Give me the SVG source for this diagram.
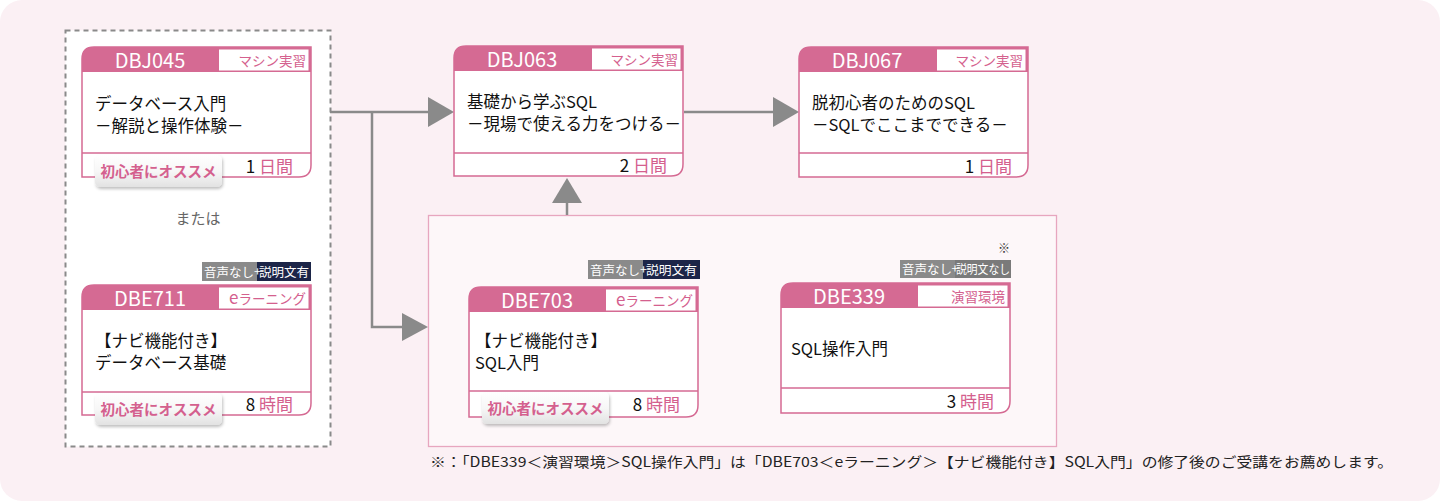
<svg xmlns="http://www.w3.org/2000/svg" width="1440" height="501" viewBox="0 0 1440 501">
<defs>
<style>
text{font-family:"Noto Sans CJK JP","Noto Sans",sans-serif}
.frame{fill:#fff;stroke:#d56a93;stroke-width:1.5}
.head{fill:#d56a93}
.lbl{fill:#fff}
.code{fill:#fff;font-size:20px;text-anchor:middle}
.kind{fill:#d4608e;font-size:13.5px;text-anchor:end}
.body{fill:#111;font-size:16.5px}
.dur{font-size:17px;text-anchor:end;fill:#111}
.pk{fill:#d4608e}
.rule{stroke:#d56a93;stroke-width:1.5}
.badge{fill:url(#bg);filter:url(#sh)}
.btxt{fill:#d4608e;font-size:14.5px;font-weight:bold;text-anchor:middle}
.tag{font-size:12.5px;fill:#fff}
.conn{stroke:#8a8a8a;stroke-width:2.5;fill:none}
.ah{fill:#8a8a8a}
</style>
<linearGradient id="bg" x1="0" y1="0" x2="0" y2="1">
<stop offset="0" stop-color="#ffffff"/>
<stop offset="0.5" stop-color="#f7f7f7"/>
<stop offset="1" stop-color="#e2e2e2"/>
</linearGradient>
<filter id="sh" x="-10%" y="-20%" width="125%" height="160%">
<feDropShadow dx="1" dy="2" stdDeviation="1.5" flood-color="#000" flood-opacity="0.25"/>
</filter>
<path id="frame" d="M0,130 V12 Q0,0 12,0 H229 V118 Q229,130 217,130 Z"/>
<path id="head" d="M0,25 V12 Q0,0 12,0 H229 V25 Z"/>
</defs>

<rect x="0" y="0" width="1440" height="501" rx="22" fill="#fbf0f4"/>
<rect id="orbox" x="65.5" y="30.5" width="265" height="416" fill="#fff" stroke="#8a8a8a" stroke-width="2" stroke-dasharray="5,4"/>
<rect id="grp" x="428.5" y="215.5" width="628" height="231" fill="#fdf7f9" stroke="#e7a6bf" stroke-width="1.3"/>

<g id="connectors">
<path class="conn" d="M330,112 H430"/>
<polygon class="ah" points="428,97 454,112 428,127"/>
<path class="conn" d="M372,112 V327 H404"/>
<polygon class="ah" points="402,313 428,327 402,341"/>
<path class="conn" d="M684,112 H775"/>
<polygon class="ah" points="773,97 799,112 773,127"/>
<path class="conn" d="M567,215 V201"/>
<polygon class="ah" points="552,203 567,178 582,203"/>
</g>

<text x="198" y="224" font-size="15" fill="#666" text-anchor="middle">または</text>

<g id="DBJ045" transform="translate(82,47)">
<use href="#frame" class="frame"/>
<use href="#head" class="head"/>
<rect class="lbl" x="137" y="2.5" width="89.5" height="21"/>
<line class="rule" x1="0" y1="106" x2="229" y2="106"/>
<text class="code" x="68" y="20.5">DBJ045</text>
<text class="kind" x="224" y="19">マシン実習</text>
<text class="body" x="13" y="63">データベース入門</text>
<text class="body" x="13" y="85">－解説と操作体験－</text>
<text class="dur" x="211" y="126">1 <tspan class="pk">日間</tspan></text>
<rect class="badge" x="13" y="108" width="127" height="32" rx="5"/>
<text class="btxt" x="76.5" y="130">初心者にオススメ</text>
</g>

<g id="DBE711" transform="translate(82,285)">
<rect x="120" y="-23" width="55" height="19" fill="#8a8a8a"/>
<rect x="175" y="-23" width="54" height="19" fill="#1c2548"/>
<text class="tag" x="122" y="-8.5" textLength="50" lengthAdjust="spacingAndGlyphs">音声なし</text>
<text class="tag" x="172" y="-9" font-size="9">+</text>
<text class="tag" x="177" y="-8.5" textLength="50" lengthAdjust="spacingAndGlyphs">説明文有</text>
<use href="#frame" class="frame"/>
<use href="#head" class="head"/>
<rect class="lbl" x="137" y="2.5" width="89.5" height="21"/>
<line class="rule" x1="0" y1="107" x2="229" y2="107"/>
<text class="code" x="68" y="20.5">DBE711</text>
<text class="kind" x="224" y="19"><tspan font-size="17">e</tspan>ラーニング</text>
<text class="body" x="13" y="62">【ナビ機能付き】</text>
<text class="body" x="13" y="84">データベース基礎</text>
<text class="dur" x="211" y="126">8 <tspan class="pk">時間</tspan></text>
<rect class="badge" x="13" y="108" width="127" height="32" rx="5"/>
<text class="btxt" x="76.5" y="130">初心者にオススメ</text>
</g>

<g id="DBJ063" transform="translate(454,46)">
<use href="#frame" class="frame"/>
<use href="#head" class="head"/>
<rect class="lbl" x="138" y="2.5" width="88.5" height="21"/>
<line class="rule" x1="0" y1="107" x2="229" y2="107"/>
<text class="code" x="68" y="20.5">DBJ063</text>
<text class="kind" x="224" y="19">マシン実習</text>
<text class="body" x="13" y="62">基礎から学ぶSQL</text>
<text class="body" x="13" y="84">－現場で使える力をつける－</text>
<text class="dur" x="213" y="126">2 <tspan class="pk">日間</tspan></text>
</g>

<g id="DBJ067" transform="translate(799,47)">
<use href="#frame" class="frame"/>
<use href="#head" class="head"/>
<rect class="lbl" x="138" y="2.5" width="88.5" height="21"/>
<line class="rule" x1="0" y1="106" x2="229" y2="106"/>
<text class="code" x="68" y="20.5">DBJ067</text>
<text class="kind" x="224" y="19">マシン実習</text>
<text class="body" x="13" y="62">脱初心者のためのSQL</text>
<text class="body" x="13" y="84">－SQLでここまでできる－</text>
<text class="dur" x="213" y="126">1 <tspan class="pk">日間</tspan></text>
</g>

<g id="DBE703" transform="translate(469,287)">
<rect x="119" y="-27" width="55" height="19" fill="#8a8a8a"/>
<rect x="174" y="-27" width="57" height="19" fill="#1c2548"/>
<text class="tag" x="121" y="-12.5" textLength="50" lengthAdjust="spacingAndGlyphs">音声なし</text>
<text class="tag" x="171" y="-13" font-size="9">+</text>
<text class="tag" x="177" y="-12.5" textLength="51" lengthAdjust="spacingAndGlyphs">説明文有</text>
<use href="#frame" class="frame"/>
<use href="#head" class="head"/>
<rect class="lbl" x="137" y="2.5" width="89.5" height="21"/>
<line class="rule" x1="0" y1="104" x2="229" y2="104"/>
<text class="code" x="68" y="20.5">DBE703</text>
<text class="kind" x="224" y="19"><tspan font-size="17">e</tspan>ラーニング</text>
<text class="body" x="6" y="60">【ナビ機能付き】</text>
<text class="body" x="6" y="82">SQL入門</text>
<text class="dur" x="211" y="124">8 <tspan class="pk">時間</tspan></text>
<rect class="badge" x="13" y="105" width="127" height="32" rx="5"/>
<text class="btxt" x="76.5" y="127">初心者にオススメ</text>
</g>

<g id="DBE339" transform="translate(781,283)">
<text x="229" y="-30" font-size="12" fill="#333" text-anchor="end">※</text>
<rect x="119" y="-23" width="55" height="18" fill="#8a8a8a"/>
<rect x="174" y="-23" width="56" height="18" fill="#7a7a7a"/>
<text class="tag" x="121" y="-9.5" textLength="50" lengthAdjust="spacingAndGlyphs">音声なし</text>
<text class="tag" x="170.5" y="-10" font-size="9">+</text>
<text class="tag" x="175" y="-9.5" textLength="54" lengthAdjust="spacingAndGlyphs">説明文なし</text>
<use href="#frame" class="frame"/>
<use href="#head" class="head"/>
<rect class="lbl" x="137" y="2.5" width="89.5" height="21"/>
<line class="rule" x1="0" y1="105" x2="229" y2="105"/>
<text class="code" x="68" y="20.5">DBE339</text>
<text class="kind" x="224" y="19">演習環境</text>
<text class="body" x="10" y="72">SQL操作入門</text>
<text class="dur" x="213" y="125">3 <tspan class="pk">時間</tspan></text>
</g>

<text x="430" y="467" font-size="14" fill="#222" textLength="963" lengthAdjust="spacingAndGlyphs">※：「DBE339＜演習環境＞SQL操作入門」は「DBE703＜eラーニング＞【ナビ機能付き】SQL入門」の修了後のご受講をお薦めします。</text>
</svg>
